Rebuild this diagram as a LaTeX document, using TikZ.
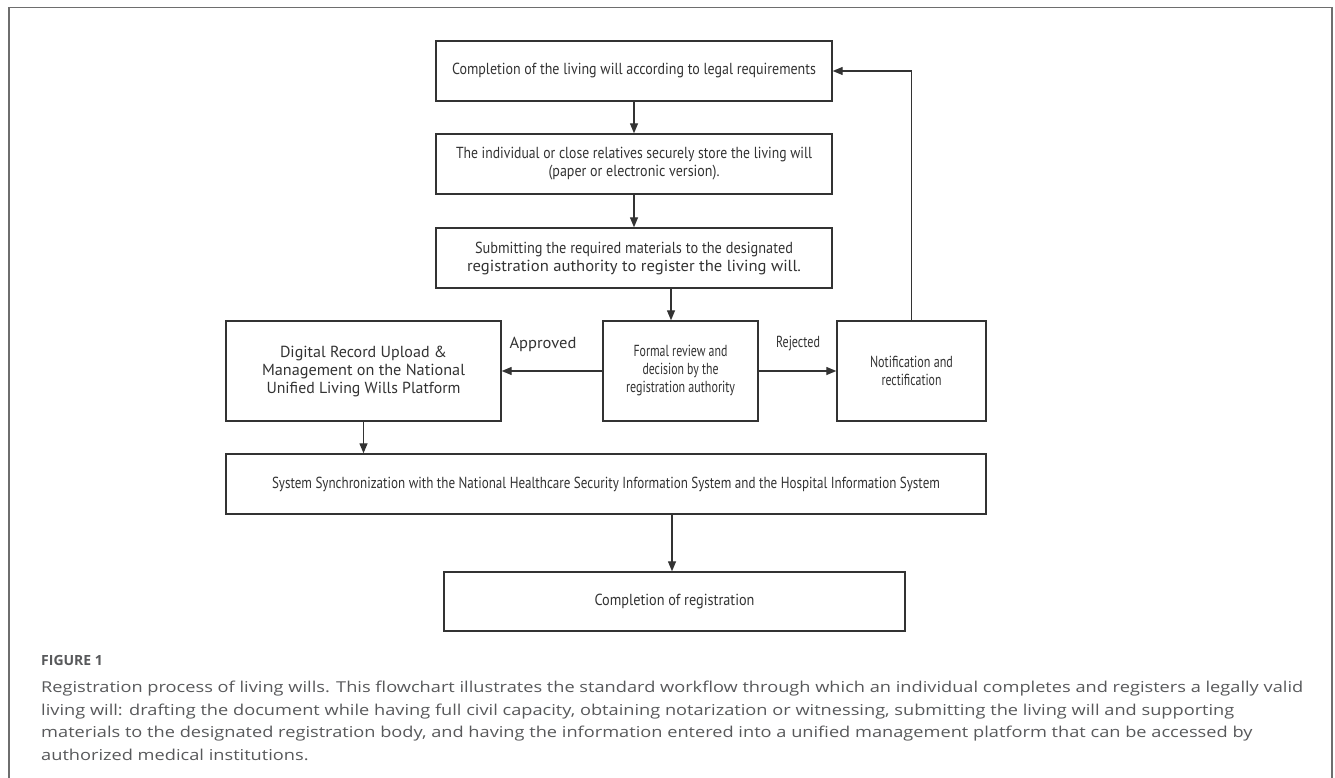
\documentclass[tikz,border=0pt]{standalone}
\usepackage{fontspec}
\usepackage{graphicx}
\setmainfont{PT Sans}
\newfontfamily\capfont{Open Sans}
\usetikzlibrary{arrows.meta}
\definecolor{ln}{HTML}{333333}
\definecolor{framec}{HTML}{6E6E6E}
\definecolor{capc}{HTML}{58595B}
\newlength\fitlen
\newlength\caplen
\newcommand\fitto[2]{\settowidth{\fitlen}{#2}\pgfmathsetmacro\fitfac{#1/\fitlen}\scalebox{\fitfac}[1]{#2}}
\newcommand\capscale[1]{\scalebox{\capfac}[1]{#1}}
\begin{document}
\settowidth{\caplen}{\capfont\fontsize{15}{22}\selectfont Registration process of living wills. This flowchart illustrates the standard workflow through which an individual completes and registers a legally valid}%
\pgfmathsetmacro\capfac{1262pt/\caplen}%
\begin{tikzpicture}[x=1pt,y=-1pt,
  box/.style={draw=ln, line width=1.4pt, inner sep=0pt, text=ln, align=center,
    font=\fontsize{16}{18}\selectfont},
  arr/.style={draw=ln, line width=1.3pt, -{Triangle[length=10pt,width=8pt]}},
  lbl/.style={text=ln, inner sep=0pt, font=\fontsize{16}{18}\selectfont},
  capt/.style={anchor=base west, inner sep=0pt, text=capc, font=\capfont\fontsize{15}{22}\selectfont}]
\useasboundingbox (0,0) rectangle (1335,778);
\fill[white] (0,0) rectangle (1335,778);
\draw[framec, line width=1.8pt] (9,800) -- (9,7.5) -- (1332,7.5) -- (1332,800);

% boxes
\node[box, minimum width=396pt, minimum height=60pt] (b1) at (634,71)
  {\fitto{364pt}{Completion of the living will according to legal requirements}};
\node[box, minimum width=396pt, minimum height=60pt] (b2) at (634,164)
  {\fitto{356pt}{The individual or close relatives securely store the living will}\\
   \fitto{171pt}{(paper or electronic version).}};
\node[box, minimum width=396pt, minimum height=60pt] (b3) at (634,258)
  {\fitto{318pt}{Submitting the required materials to the designated}\\
   \fitto{334pt}{registration authority to register the living will.}};
\node[box, minimum width=155pt, minimum height=100pt] (b4) at (680.5,371)
  {\fitto{94pt}{Formal review and}\\
   \fitto{76pt}{decision by the}\\
   \fitto{109pt}{registration authority}};
\node[box, minimum width=149pt, minimum height=100pt] (b5) at (911.5,371)
  {\fitto{83pt}{Notification and}\\
   \fitto{60pt}{rectification}};
\node[box, minimum width=275pt, minimum height=100pt] (b6) at (363.5,371)
  {\fitto{167pt}{Digital Record Upload \&}\\
   \fitto{203pt}{Management on the National}\\
   \fitto{194pt}{Unified Living Wills Platform}};
\node[box, minimum width=760pt, minimum height=60pt] (b7) at (606,484)
  {\fitto{668pt}{System Synchronization with the National Healthcare Security Information System and the Hospital Information System}};
\node[box, minimum width=461pt, minimum height=59pt] (b8) at (674.5,601.5)
  {\fitto{160pt}{Completion of registration}};

% labels
\node[lbl] (ap) at (543,344) {\fitto{67pt}{Approved}};
\node[lbl] (rj) at (798,344) {\fitto{44pt}{Rejected}};

% connectors
\coordinate (x34) at (671,0);
\coordinate (x78) at (672,0);
\draw[arr] (b1.south) -- (b2.north);
\draw[arr] (b2.south) -- (b3.north);
\draw[arr] (b3.south -| x34) -- (b4.north -| x34);
\draw[arr] (b4.west) -- (b6.east);
\draw[arr] (b4.east) -- (b5.west);
\draw[arr] (b5.north) |- (b1.east);
\draw[arr] (b6.south) -- (b7.north -| b6.south);
\draw[arr] (b7.south -| x78) -- (b8.north -| x78);

% caption
\node[capt, font=\capfont\bfseries\fontsize{14}{16}\selectfont] (fig) at (41,665.5) {FIGURE 1};
\node[capt] (c1) at (41,692.5) {\capscale{Registration process of living wills. This flowchart illustrates the standard workflow through which an individual completes and registers a legally valid}};
\node[capt] (c2) at (41,715) {\capscale{living will: drafting the document while having full civil capacity, obtaining notarization or witnessing, submitting the living will and supporting}};
\node[capt] (c3) at (41,737.5) {\capscale{materials to the designated registration body, and having the information entered into a unified management platform that can be accessed by}};
\node[capt] (c4) at (41,760) {\capscale{authorized medical institutions.}};
\end{tikzpicture}
\end{document}
